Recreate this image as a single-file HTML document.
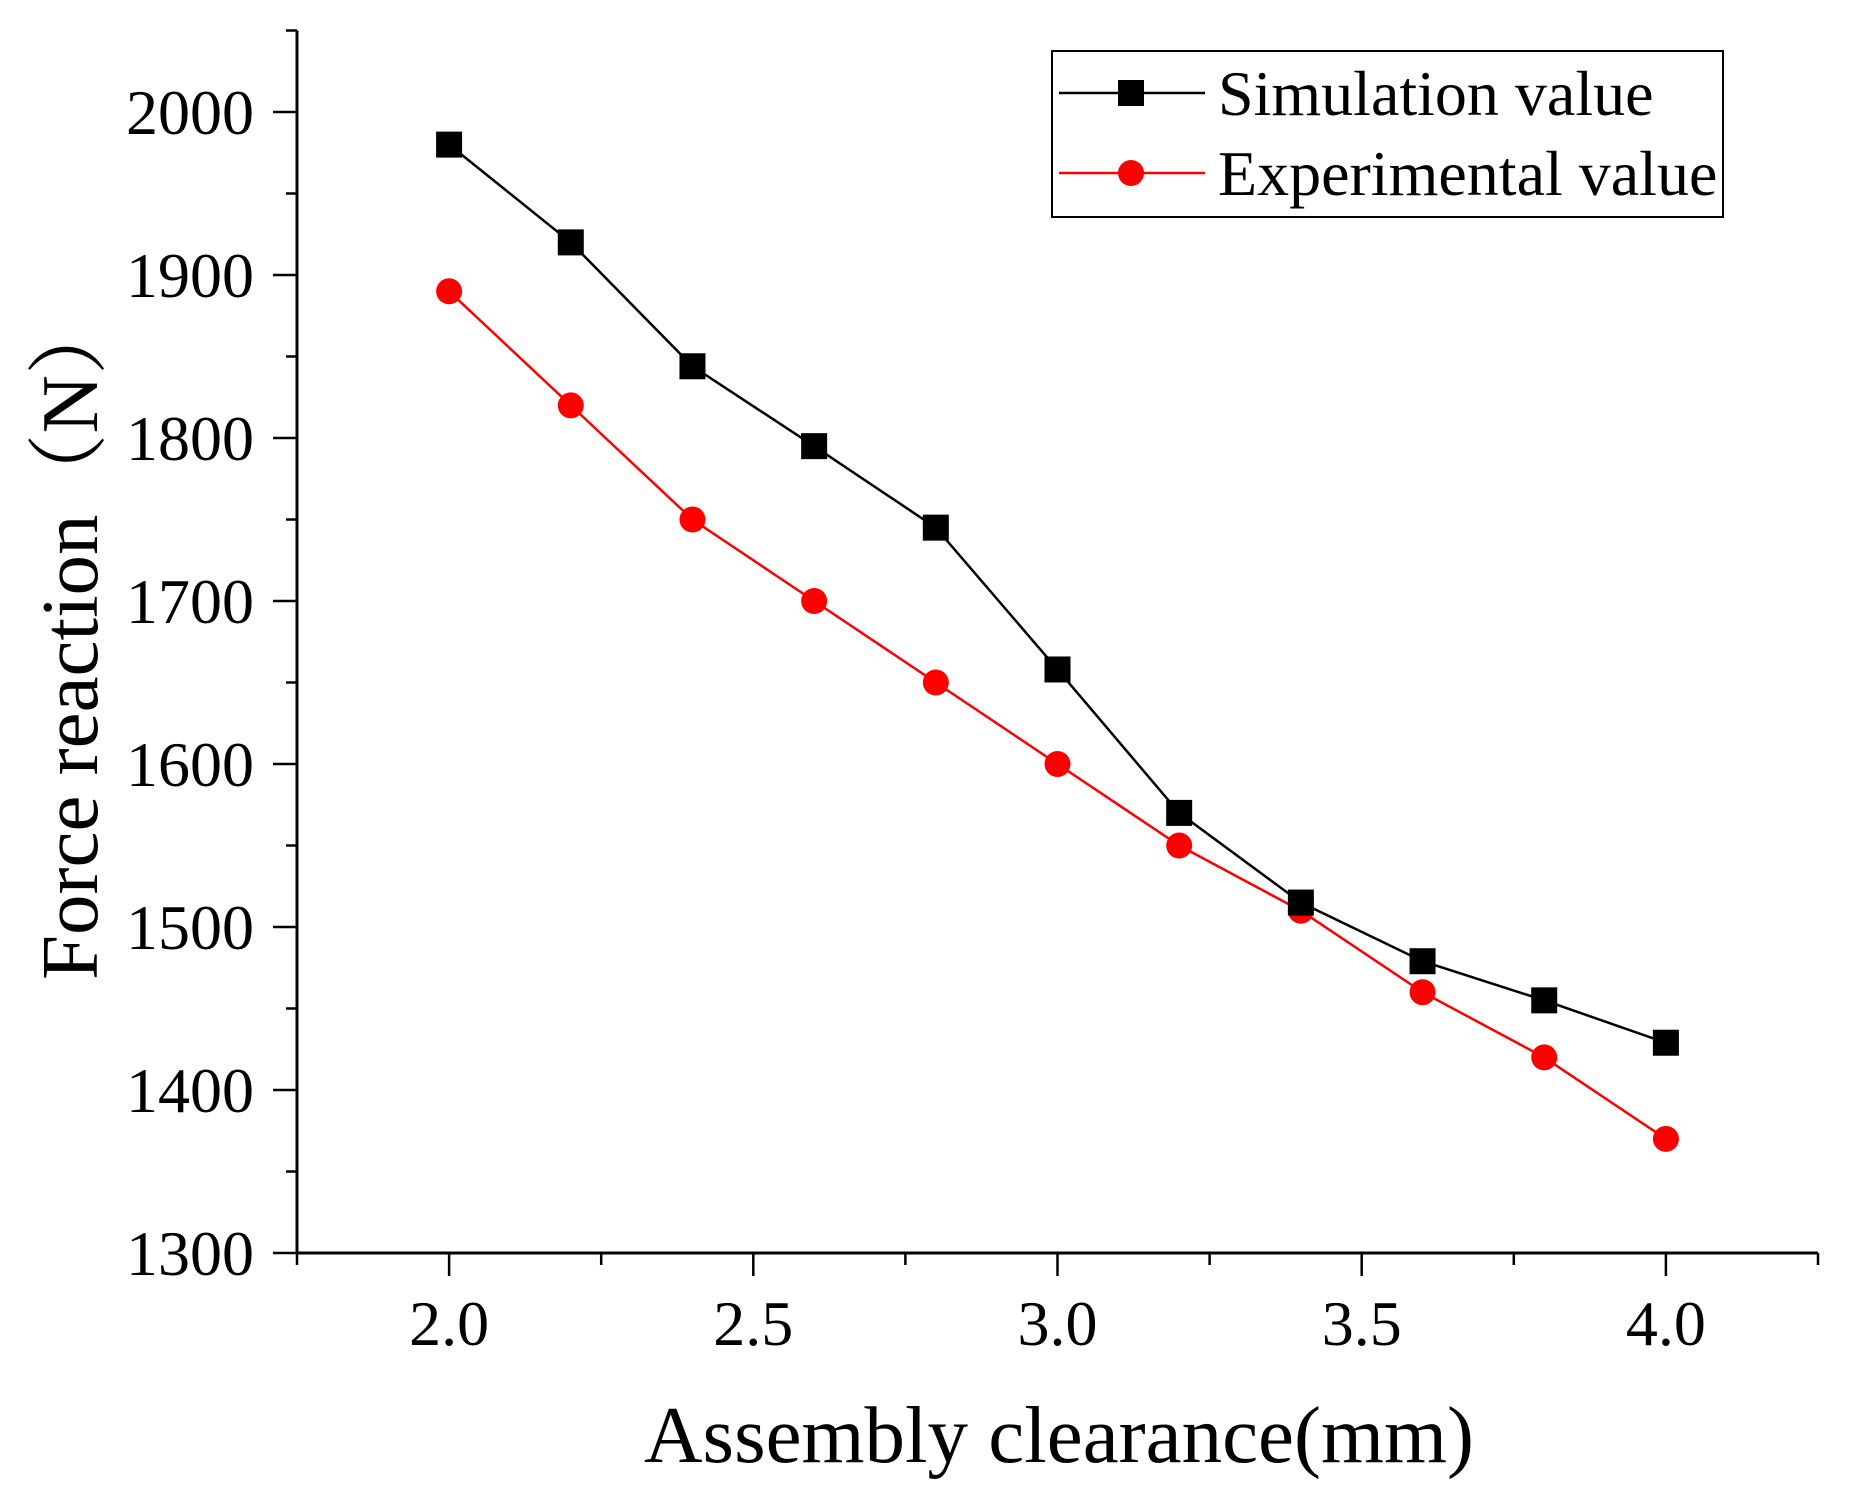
<!DOCTYPE html>
<html><head><meta charset="utf-8"><style>
html,body{margin:0;padding:0;background:#fff}
svg{display:block}
text{font-family:"Liberation Serif","Noto Serif CJK SC",serif;fill:#000}
</style></head><body>
<svg id="chart" width="1862" height="1502" viewBox="0 0 1862 1502">
<g id="axes"></g>
<g id="series"></g>
<text x="1059" y="1462" font-size="81" text-anchor="middle">Assembly clearance(mm)</text>
<text transform="translate(97,637) rotate(-90)" font-size="81" text-anchor="middle">Force reaction（N）</text>
<g>
<rect x="1052" y="51" width="671" height="166" fill="#fff" stroke="#000" stroke-width="2"/>
<g>
<line x1="1059" y1="93" x2="1205" y2="93" stroke="#000" stroke-width="2.5"/>
<rect x="1118" y="80" width="26" height="26" fill="#000"/>
<text x="1218" y="115" font-size="64">Simulation value</text>
</g>
<g>
<line x1="1059" y1="173" x2="1205" y2="173" stroke="#f00" stroke-width="2.5"/>
<circle cx="1131" cy="173" r="13" fill="#f00"/>
<text x="1218" y="195" font-size="64">Experimental value</text>
</g>
</g>
</svg>
<script>
const xValues = [2.0, 2.2, 2.4, 2.6, 2.8, 3.0, 3.2, 3.4, 3.6, 3.8, 4.0];
const simulation = [1980, 1920, 1844, 1795, 1745, 1658, 1570, 1515, 1479, 1455, 1429];
const experimental = [1890, 1820, 1750, 1700, 1650, 1600, 1550, 1510, 1460, 1420, 1370];
const xTicks = ["2.0", "2.5", "3.0", "3.5", "4.0"];
const yTicks = ["1300", "1400", "1500", "1600", "1700", "1800", "1900", "2000"];

const NS = "http://www.w3.org/2000/svg";
const X0 = 297, X1 = 1818, XMIN = 1.75, XMAX = 4.25;
const Y0 = 1253, Y1 = 30.5, YMIN = 1300, YMAX = 2050;
function sx(v){return X0 + (v - XMIN) / (XMAX - XMIN) * (X1 - X0);}
function sy(v){return Y0 - (v - YMIN) / (YMAX - YMIN) * (Y0 - Y1);}
function mk(tag, attrs, parent){const e=document.createElementNS(NS,tag);for(const k in attrs)e.setAttribute(k,attrs[k]);parent.appendChild(e);return e;}

const axes = document.getElementById('axes');
const yl = mk('line',{x1:X0,y1:Y1,x2:X0,y2:Y0+1.5,stroke:'#000','stroke-width':3},axes);


const xl = mk('line',{x1:X0-1.5,y1:Y0,x2:X1,y2:Y0,stroke:'#000','stroke-width':3},axes);



for (let v = 1300; v <= 2050; v += 50) {
  const major = v % 100 === 0;
  const t = mk('line',{x1:X0-(major?24:11),y1:sy(v),x2:X0,y2:sy(v),stroke:'#000','stroke-width':2.5},axes);
  
  
}
yTicks.forEach(s=>{
  const t = mk('text',{x:254,y:sy(+s)+22,'font-size':64,'text-anchor':'end'},axes);
  t.textContent = s;
  
  
});
for (let i = 0; i <= 10; i++) {
  const v = 1.75 + i * 0.25;
  const major = i % 2 === 1;
  const t = mk('line',{x1:sx(v),y1:Y0,x2:sx(v),y2:Y0+(major?23:12),stroke:'#000','stroke-width':2.5},axes);
  
  
}
xTicks.forEach(s=>{
  const t = mk('text',{x:sx(+s),y:1345,'font-size':64,'text-anchor':'middle'},axes);
  t.textContent = s;
  
  
});

const series = document.getElementById('series');
function drawLine(vals,color,name){
  const pts = vals.map((v,i)=>sx(xValues[i])+','+sy(v)).join(' ');
  const p = mk('polyline',{points:pts,fill:'none',stroke:color,'stroke-width':2.5},series);
  
  
}
drawLine(experimental,'#f00','experimental');
drawLine(simulation,'#000','simulation');
experimental.forEach((v,i)=>{
  const c = mk('circle',{cx:sx(xValues[i]),cy:sy(v),r:13,fill:'#f00'},series);
  
  
});
simulation.forEach((v,i)=>{
  const r = mk('rect',{x:sx(xValues[i])-13,y:sy(v)-13,width:26,height:26,fill:'#000'},series);
  
  
});
</script>
</body></html>
